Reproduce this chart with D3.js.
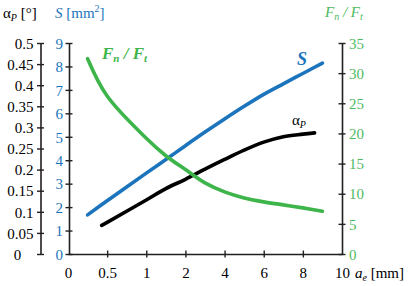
<!DOCTYPE html>
<html>
<head>
<meta charset="utf-8">
<script src="https://cdn.jsdelivr.net/npm/d3@7"></script>
<style>
  body { margin: 0; background: #fff; }
  svg { display: block; }
  svg text { font-family: "Liberation Serif", "Times New Roman", Times, serif; }
  .tick text { font-size: 15px; }
</style>
</head>
<body>
<svg width="418" height="286"></svg>
<script>
const svg = d3.select('svg');

// x axis labels (non-linear, equally spaced)
const aeTicks = [0, 0.5, 1, 2, 4, 6, 8, 10];

// S [mm2]
const sAe  = [0.25, 0.5, 1, 1.5, 2, 3, 4, 5, 6, 7, 8, 9];
const sVal = [1.67, 2.27, 3.45, 4.03, 4.62, 5.2, 5.76, 6.30, 6.81, 7.26, 7.70, 8.14];

// alpha_P [deg]
const aAe  = [0.43, 0.5, 1, 1.5, 2, 3, 4, 5, 6, 7, 8, 8.6];
const aVal = [0.068, 0.075, 0.128, 0.155, 0.177, 0.201, 0.224, 0.246, 0.265, 0.278, 0.284, 0.287];

// Fn / Ft
const fAe  = [0.25, 0.5, 1, 1.5, 2, 3, 4, 5, 6, 7, 8, 9];
const fVal = [32.4, 26.2, 19.2, 16.3, 14.0, 11.8, 10.3, 9.3, 8.65, 8.15, 7.65, 7.1];

const aTicks = d3.range(0, 0.501, 0.05);
const sTicks = d3.range(0, 10, 1);
const fTicks = d3.range(0, 36, 5);

const blue = '#1c75bc';
const green = '#3db54a';
const greenText = '#4dba62';
const axisCol = '#231f20';

const x0 = 68, x1 = 342;
const yBottom = 254, yTop = 43;
const step = (x1 - x0) / (aeTicks.length - 1);

const xScale = d3.scaleLinear()
    .domain(aeTicks)
    .range(aeTicks.map((d, i) => x0 + i * step));

const aScale = d3.scaleLinear().domain([0, 0.5]).range([yBottom, yTop]);
const sScale = d3.scaleLinear().domain([0, 9]).range([yBottom, yTop]);
const fScale = d3.scaleLinear().domain([0, 35]).range([yBottom, yTop]);

const styleAxis = (g, color, textX, anchor) => {
    g.attr('font-family', null).attr('font-size', null);
    g.select('.domain').attr('stroke', axisCol).attr('stroke-width', 1.6);
    g.selectAll('.tick line')
        .attr('stroke', axisCol).attr('stroke-width', 1.4)
        .attr('x1', -3.5).attr('x2', 3.5);
    g.selectAll('.tick text')
        .attr('fill', color)
        .attr('x', textX)
        .attr('text-anchor', anchor)
        .attr('dy', '0.35em');
};

// alpha axis
const aAxisG = svg.append('g')
    .attr('transform', 'translate(40.5,0)')
    .call(d3.axisLeft(aScale).tickValues(aTicks).tickSize(0).tickSizeOuter(0)
        .tickFormat(d => d3.format('~g')(+d.toFixed(2))));
styleAxis(aAxisG, '#000', -7, 'end');
aAxisG.selectAll('.tick text').filter(d => d < 0.001)
    .attr('x', -23).attr('text-anchor', 'middle');

// S axis
const sAxisG = svg.append('g')
    .attr('transform', `translate(${x0 + 1},0)`)
    .call(d3.axisLeft(sScale).tickValues(sTicks).tickSize(0).tickSizeOuter(0));
styleAxis(sAxisG, blue, -6, 'end');

// Fn/Ft axis
const fAxisG = svg.append('g')
    .attr('transform', `translate(${x1},0)`)
    .call(d3.axisRight(fScale).tickValues(fTicks).tickSize(0).tickSizeOuter(0));
styleAxis(fAxisG, greenText, 7, 'start');

// x axis
const xAxisG = svg.append('g')
    .attr('transform', `translate(0,${yBottom})`)
    .call(d3.axisBottom(xScale).tickValues(aeTicks).tickSize(0).tickSizeOuter(0)
        .tickFormat(d => d));
xAxisG.attr('font-family', null).attr('font-size', null);
xAxisG.select('.domain').attr('stroke', axisCol).attr('stroke-width', 1.6);
xAxisG.selectAll('.tick line')
    .attr('stroke', axisCol).attr('stroke-width', 1.4)
    .attr('y1', -3.5).attr('y2', 3.5);
xAxisG.selectAll('.tick line').filter(d => d === 0 || d === 10).remove();
xAxisG.selectAll('.tick text')
    .attr('fill', '#000').attr('y', 24).attr('dy', null);

// curves
const line = (ae, vals, yS) => d3.line()
    .x(i => xScale(ae[i]))
    .y(i => yS(vals[i]))
    .curve(d3.curveCatmullRom.alpha(0.5))(d3.range(ae.length));

svg.append('path').attr('d', line(sAe, sVal, sScale))
    .attr('fill', 'none').attr('stroke', blue).attr('stroke-width', 3.6).attr('stroke-linecap', 'round');
svg.append('path').attr('d', line(aAe, aVal, aScale))
    .attr('fill', 'none').attr('stroke', '#000').attr('stroke-width', 3.6).attr('stroke-linecap', 'round');
svg.append('path').attr('d', line(fAe, fVal, fScale))
    .attr('fill', 'none').attr('stroke', green).attr('stroke-width', 3.6).attr('stroke-linecap', 'round');

// header labels
const head = svg.append('text').attr('x', 3).attr('y', 18).attr('font-size', 15);
head.append('tspan').text('α');
head.append('tspan').attr('font-style', 'italic').attr('font-size', 10).attr('dy', 3).text('P');
head.append('tspan').attr('dy', -3).text(' [°]');
const headS = svg.append('text').attr('x', 55).attr('y', 18).attr('font-size', 15).attr('fill', blue);
headS.append('tspan').attr('font-style', 'italic').text('S');
headS.append('tspan').text(' [mm');
headS.append('tspan').attr('font-size', 10).attr('dy', -6).text('2');
headS.append('tspan').attr('dy', 6).text(']');

const headF = svg.append('text').attr('x', 325).attr('y', 17).attr('font-size', 15)
    .attr('fill', greenText).attr('font-style', 'italic');
headF.append('tspan').text('F');
headF.append('tspan').attr('font-size', 10).attr('dy', 3).text('n');
headF.append('tspan').attr('dy', -3).text(' / F');
headF.append('tspan').attr('font-size', 10).attr('dy', 3).text('t');

// x axis title
const xt = svg.append('text').attr('x', 355).attr('y', 278).attr('font-size', 15);
xt.append('tspan').attr('font-style', 'italic').text('a');
xt.append('tspan').attr('font-style', 'italic').attr('font-size', 10).attr('dy', 3).text('e');
xt.append('tspan').attr('dy', -3).text(' [mm]');

// in-plot labels
const lf = svg.append('text').attr('x', 102).attr('y', 59).attr('font-size', 17)
    .attr('fill', green).attr('font-style', 'italic').attr('font-weight', 'bold');
lf.append('tspan').text('F');
lf.append('tspan').attr('font-size', 11).attr('dy', 3).text('n');
lf.append('tspan').attr('dy', -3).text(' / F');
lf.append('tspan').attr('font-size', 11).attr('dy', 3).text('t');

svg.append('text').attr('x', 297).attr('y', 65).attr('font-size', 18)
    .attr('fill', blue).attr('font-style', 'italic').attr('font-weight', 'bold').text('S');

const la = svg.append('text').attr('x', 292).attr('y', 125).attr('font-size', 15);
la.append('tspan').text('α');
la.append('tspan').attr('font-style', 'italic').attr('font-size', 10).attr('dy', 3).text('P');
</script>
</body>
</html>
